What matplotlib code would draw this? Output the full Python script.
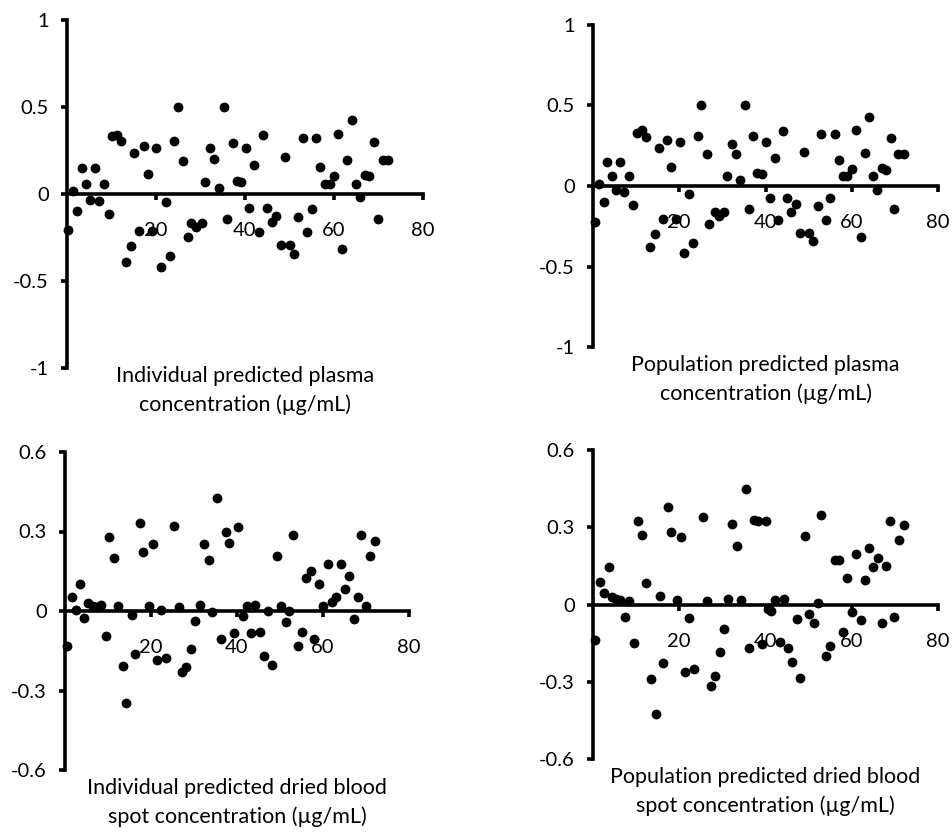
import matplotlib
matplotlib.use("Agg")
import matplotlib.pyplot as plt

plt.rcParams.update({
    "font.family": ["Lato", "DejaVu Sans"],
    "font.size": 14.5,
    "axes.linewidth": 2.6,
    "xtick.major.width": 2.6,
    "ytick.major.width": 2.6,
    "xtick.major.size": 4,
    "ytick.major.size": 4,
    "ytick.major.pad": 9,
    "ytick.labelsize": 14.5,
})

# Individual predicted plasma concentration vs residual
IPRED_PLASMA_X = [0.2, 1.3, 2.2, 3.3, 4.2, 5.1, 6.4, 7.2, 8.3, 9.4, 10.1, 11.2, 12.1, 13.2, 14.4,
                  15.1, 16.2, 17.3, 18.2, 19.1, 20.1, 21.2, 22.2, 23.1, 24.1, 25.0, 26.1, 27.2,
                  27.9, 29.1, 30.3, 31.1, 32.1, 33.0, 34.1, 35.2, 36.0, 37.2, 38.2, 39.0, 40.2,
                  40.9, 42.1, 43.1, 44.0, 45.0, 46.0, 46.9, 48.0, 48.9, 50.0, 51.1, 52.0, 53.0,
                  53.9, 55.0, 56.0, 56.9, 57.9, 59.0, 59.9, 61.0, 61.8, 62.9, 64.0, 64.9, 65.9,
                  67.0, 67.9, 69.1, 69.9, 70.9, 72.1]
IPRED_PLASMA_Y = [-0.206, 0.015, -0.10, 0.149, 0.059, -0.032, 0.149, -0.038, 0.059, -0.114,
                  0.333, 0.341, 0.307, -0.389, -0.299, 0.236, -0.210, 0.276, 0.116, -0.210,
                  0.267, -0.419, -0.046, -0.356, 0.307, 0.499, 0.189, -0.246, -0.164, -0.190,
                  -0.164, 0.067, 0.267, 0.200, 0.034, 0.499, -0.143, 0.295, 0.076, 0.067, 0.267,
                  -0.080, 0.164, -0.219, 0.341, -0.080, -0.162, -0.124, -0.293, 0.211, -0.293,
                  -0.343, -0.133, 0.320, -0.219, -0.084, 0.320, 0.156, 0.059, 0.059, 0.105,
                  0.347, -0.314, 0.194, 0.427, 0.059, -0.019, 0.112, 0.105, 0.299, -0.143,
                  0.196, 0.196]

# Population predicted plasma concentration vs residual
PRED_PLASMA_X = [0.4, 1.4, 2.5, 3.3, 4.3, 5.3, 6.3, 7.3, 8.3, 9.3, 10.3, 11.4, 12.4, 13.2, 14.3,
                 15.2, 16.2, 17.2, 18.2, 19.3, 20.2, 21.2, 22.3, 23.2, 24.3, 25.1, 26.4, 27.0,
                 28.3, 29.2, 30.3, 31.1, 32.2, 33.1, 34.2, 35.2, 36.2, 37.1, 38.1, 39.1, 40.2,
                 41.1, 42.1, 43.0, 44.1, 45.0, 45.9, 47.0, 48.1, 48.9, 50.1, 51.0, 52.1, 52.9,
                 54.1, 55.0, 56.1, 57.0, 58.0, 59.0, 60.1, 60.9, 62.2, 63.0, 64.0, 64.9, 65.9,
                 67.0, 68.0, 69.0, 69.9, 70.8, 72.0]
PRED_PLASMA_Y = [-0.222, 0.015, -0.100, 0.151, 0.064, -0.027, 0.151, -0.035, 0.064, -0.116,
                 0.332, 0.346, 0.305, -0.380, -0.301, 0.239, -0.207, 0.284, 0.118, -0.207,
                 0.272, -0.415, -0.052, -0.353, 0.309, 0.500, 0.197, -0.239, -0.160, -0.187,
                 -0.160, 0.064, 0.259, 0.201, 0.037, 0.500, -0.145, 0.309, 0.083, 0.073, 0.272,
                 -0.077, 0.172, -0.210, 0.342, -0.073, -0.160, -0.114, -0.295, 0.214, -0.295,
                 -0.342, -0.124, 0.326, -0.210, -0.077, 0.326, 0.160, 0.064, 0.064, 0.104,
                 0.346, -0.317, 0.207, 0.429, 0.064, -0.027, 0.114, 0.098, 0.301, -0.145,
                 0.197, 0.197]

# Individual predicted dried blood spot concentration vs residual
IPRED_DBS_X = [0.4, 1.6, 2.6, 3.5, 4.4, 5.4, 6.4, 7.4, 8.4, 9.5, 10.3, 11.5, 12.3, 13.4, 14.3,
               15.5, 16.3, 17.4, 18.2, 19.5, 20.4, 21.3, 22.3, 23.4, 25.3, 26.4, 27.3, 28.1,
               29.3, 30.2, 31.4, 32.3, 33.4, 34.3, 35.4, 36.2, 37.4, 38.2, 39.4, 40.2, 41.3,
               42.3, 43.3, 44.3, 45.4, 46.3, 47.3, 48.2, 49.3, 50.2, 51.3, 52.2, 53.1, 54.2,
               55.0, 56.0, 57.1, 58.0, 59.1, 60.1, 61.1, 62.0, 63.0, 64.1, 65.0, 66.0, 67.1,
               68.1, 68.8, 70.0, 70.9, 72.0]
IPRED_DBS_Y = [-0.133, 0.053, 0.005, 0.101, -0.028, 0.030, 0.018, 0.015, 0.021, -0.094, 0.279,
               0.201, 0.020, -0.209, -0.347, -0.016, -0.164, 0.332, 0.221, 0.020, 0.254, -0.184,
               0.005, -0.177, 0.322, 0.015, -0.230, -0.211, -0.142, -0.038, 0.024, 0.254, 0.191,
               -0.005, 0.428, -0.104, 0.297, 0.258, -0.083, 0.317, -0.020, 0.020, -0.083, 0.024,
               -0.079, -0.169, 0.000, -0.205, 0.206, 0.020, -0.043, 0.000, 0.286, -0.133,
               -0.078, 0.126, 0.151, -0.107, 0.103, 0.020, 0.176, 0.034, 0.053, 0.179, 0.084,
               0.133, -0.031, 0.053, 0.286, 0.020, 0.206, 0.264]

# Population predicted dried blood spot concentration vs residual
PRED_DBS_X = [0.4, 1.7, 2.5, 3.6, 4.5, 5.4, 6.3, 7.4, 8.3, 9.4, 10.4, 11.4, 12.4, 13.4, 14.5,
              15.5, 16.2, 17.5, 18.2, 19.5, 20.3, 21.4, 22.3, 23.5, 25.5, 26.4, 27.4, 28.3,
              29.4, 30.3, 31.4, 32.3, 33.3, 34.3, 35.4, 36.2, 37.3, 38.3, 39.3, 40.2, 40.6,
              41.3, 42.1, 43.4, 44.2, 45.3, 46.2, 47.3, 48.1, 49.2, 50.2, 51.2, 52.1, 52.9,
              54.1, 55.0, 56.0, 57.0, 58.0, 58.9, 60.0, 60.9, 62.1, 63.0, 64.0, 64.9, 66.0,
              66.9, 68.0, 68.9, 69.9, 70.9, 72.0]
PRED_DBS_Y = [-0.139, 0.089, 0.043, 0.146, 0.030, 0.023, 0.017, -0.048, 0.013, -0.149, 0.325,
              0.269, 0.084, -0.290, -0.424, 0.032, -0.229, 0.380, 0.281, 0.017, 0.263, -0.264,
              -0.051, -0.250, 0.341, 0.013, -0.317, -0.278, -0.185, -0.095, 0.022, 0.312, 0.227,
              0.017, 0.449, -0.170, 0.330, 0.325, -0.152, 0.325, -0.017, -0.025, 0.017, -0.146,
              0.022, -0.170, -0.224, -0.057, -0.284, 0.266, -0.035, -0.071, 0.004, 0.346,
              -0.201, -0.162, 0.172, 0.172, -0.108, 0.101, -0.028, 0.196, -0.061, 0.095, 0.218,
              0.146, 0.180, -0.071, 0.149, 0.325, -0.048, 0.250, 0.307]

PLASMA_TICKS = [-1, -0.5, 0, 0.5, 1]
PLASMA_TICK_LABELS = ["-1", "-0.5", "0", "0.5", "1"]
DBS_TICKS = [-0.6, -0.3, 0, 0.3, 0.6]
DBS_TICK_LABELS = ["-0.6", "-0.3", "0", "0.3", "0.6"]
X_TICKS = [20, 40, 60, 80]

W, H = 952, 834


def px_rect(x0, x1, ytop, ybot):
    return [x0 / W, 1 - ybot / H, (x1 - x0) / W, (ybot - ytop) / H]


def draw_panel(fig, rect, x, y, yticks, ylabels, label, label_top):
    ax = fig.add_axes(rect)
    ax.set_xlim(0, 80)
    ax.set_ylim(yticks[0], yticks[-1])

    for side in ("top", "right"):
        ax.spines[side].set_visible(False)
    ax.spines["left"].set_position(("data", 0))
    ax.spines["bottom"].set_position(("data", 0))

    ax.set_yticks(yticks)
    ax.set_yticklabels(ylabels)
    ax.set_xticks(X_TICKS)
    ax.set_xticklabels([])
    ax.patch.set_visible(False)

    # x tick labels sit well below the zero line, as in the spreadsheet chart
    for t in X_TICKS:
        ax.annotate(str(t), xy=(t, 0), xycoords="data", xytext=(0, -26.5),
                    textcoords="offset points", ha="center", va="center",
                    fontsize=14.5, zorder=2)

    ax.scatter(x, y, s=50, color="black", linewidths=0, zorder=3, clip_on=False)

    xc = rect[0] + rect[2] / 2
    fig.text(xc, 1 - label_top / H, label, ha="center", va="top",
             fontsize=15.5, linespacing=1.5)
    return ax


fig = plt.figure(figsize=(W / 100, H / 100), dpi=100)

draw_panel(fig, px_rect(67, 423, 20, 368), IPRED_PLASMA_X, IPRED_PLASMA_Y,
           PLASMA_TICKS, PLASMA_TICK_LABELS,
           "Individual predicted plasma\nconcentration (\u00b5g/mL)", 366)
draw_panel(fig, px_rect(593, 938, 25, 347), PRED_PLASMA_X, PRED_PLASMA_Y,
           PLASMA_TICKS, PLASMA_TICK_LABELS,
           "Population predicted plasma\nconcentration (\u00b5g/mL)", 355)
draw_panel(fig, px_rect(65, 409, 452, 770), IPRED_DBS_X, IPRED_DBS_Y,
           DBS_TICKS, DBS_TICK_LABELS,
           "Individual predicted dried blood\nspot concentration (\u00b5g/mL)", 778)
draw_panel(fig, px_rect(593, 938, 450, 759), PRED_DBS_X, PRED_DBS_Y,
           DBS_TICKS, DBS_TICK_LABELS,
           "Population predicted dried blood\nspot concentration (\u00b5g/mL)", 767)

fig.savefig("out.png", dpi=100)
